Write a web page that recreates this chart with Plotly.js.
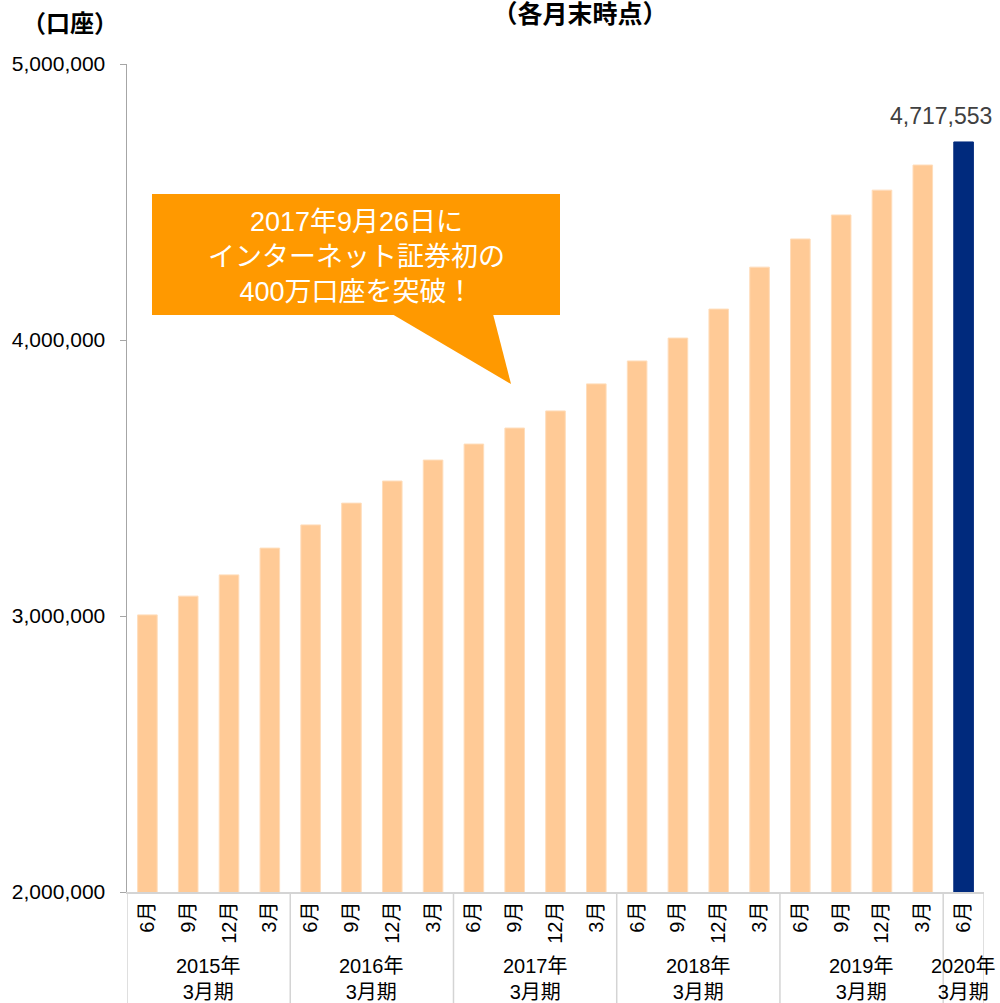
<!DOCTYPE html>
<html>
<head>
<meta charset="utf-8">
<script src="https://cdn.plot.ly/plotly-3.0.1.min.js"></script>
<style>
  html, body { margin: 0; padding: 0; background: #fff; }
  #chart { width: 1000px; height: 1003px; }
</style>
</head>
<body>
<div id="chart"></div>
<script>
// ---- data ----
const months = ['6月','9月','12月','3月','6月','9月','12月','3月','6月','9月','12月','3月',
                '6月','9月','12月','3月','6月','9月','12月','3月','6月'];
const fiscalYears = ['2015年','2016年','2017年','2018年','2019年','2020年'];
const fiscalSuffix = '3月期';
const monthsPerYear = [4, 4, 4, 4, 4, 1];
const accounts = [3004000, 3072000, 3149000, 3246000, 3330000, 3409000, 3489000, 3565000,
                  3623000, 3681000, 3743000, 3841000, 3924000, 4007000, 4112000, 4264000,
                  4366000, 4453000, 4543000, 4634000, 4717553];
const yTicks = [2000000, 3000000, 4000000, 5000000];
const unitLabel = '（口座）';
const titleText = '（各月末時点）';
const calloutText = '2017年9月26日に<br>インターネット証券初の<br>400万口座を突破！';

// ---- styling ----
const FONT = 'Liberation Sans, Arial, "Noto Sans CJK JP", sans-serif';
const PEACH = '#FFCA96';
const NAVY = '#002A7D';
const ORANGE = '#FF9900';
const SEP = '#d4d4d4';

const lastIdx = accounts.length - 1;
const xIdx = months.map((m, i) => i);
const colors = accounts.map((v, i) => i === lastIdx ? NAVY : PEACH);
const lineColors = accounts.map((v, i) => i === lastIdx ? NAVY : '#FFDDBB');

const trace = {
  type: 'bar',
  x: xIdx,
  y: accounts,
  width: 0.48,
  marker: { color: colors, line: { color: lineColors, width: 1 } },
  hoverinfo: 'skip'
};

// plot geometry helpers (paper coords)
const L = 127, R = 16, T = 64, B = 111, W = 1000, H = 1003;
const pw = W - L - R, ph = H - T - B;
const px = v => (v - L) / pw;
const py = v => (H - B - v) / ph;
const bottomPaper = py(H);

// year group separators and labels
const shapes = [];
const annotations = [];
let start = 0;
shapes.push({ type: 'line', xref: 'x', yref: 'paper', x0: -0.5, x1: -0.5, y0: 0, y1: bottomPaper,
              line: { color: SEP, width: 1.5 } });
fiscalYears.forEach((fy, k) => {
  const n = monthsPerYear[k];
  const end = start + n;
  shapes.push({ type: 'line', xref: 'x', yref: 'paper', x0: end - 0.5, x1: end - 0.5,
                y0: 0, y1: bottomPaper, line: { color: SEP, width: 1.5 } });
  annotations.push({
    xref: 'x', yref: 'paper', x: start + (n - 1) / 2, y: py(979),
    text: fy + '<br>' + fiscalSuffix, showarrow: false,
    xanchor: 'center', yanchor: 'middle',
    font: { family: FONT, size: 20, color: '#000' }
  });
  start = end;
});

// callout
shapes.push({ type: 'rect', xref: 'paper', yref: 'paper',
              x0: px(152), x1: px(560), y0: py(315), y1: py(194),
              fillcolor: ORANGE, line: { width: 0 }, layer: 'above' });
shapes.push({ type: 'path', xref: 'paper', yref: 'paper',
              path: `M ${px(392)} ${py(314)} L ${px(493)} ${py(314)} L ${px(511)} ${py(384)} Z`,
              fillcolor: ORANGE, line: { width: 0 }, layer: 'above' });
annotations.push({
  xref: 'paper', yref: 'paper', x: px(356), y: py(257),
  text: calloutText, showarrow: false, xanchor: 'center', yanchor: 'middle',
  font: { family: FONT, size: 27, color: '#fff' }
});

// value label on last bar
annotations.push({
  xref: 'x', yref: 'y', x: lastIdx, y: accounts[lastIdx],
  text: accounts[lastIdx].toLocaleString('en-US'), showarrow: false,
  xanchor: 'right', yanchor: 'middle', xshift: 30, yshift: 26,
  font: { family: FONT, size: 23, color: '#404040' }
});

// unit label
annotations.push({
  xref: 'paper', yref: 'paper', x: px(20), y: py(23),
  text: '<b>' + unitLabel + '</b>', showarrow: false, xanchor: 'left', yanchor: 'middle',
  font: { family: FONT, size: 24, color: '#000' }
});

const layout = {
  width: W, height: H,
  margin: { l: L, r: R, t: T, b: B, pad: 0 },
  paper_bgcolor: '#fff', plot_bgcolor: '#fff',
  showlegend: false,
  bargap: 0.52,
  title: {
    text: '<b>' + titleText + '</b>',
    x: 0.58, xanchor: 'center', xref: 'container',
    y: 0.986, yanchor: 'middle', yref: 'container',
    font: { family: FONT, size: 25, color: '#000' }
  },
  xaxis: {
    range: [-0.5, lastIdx + 0.5],
    tickmode: 'array', tickvals: xIdx, ticktext: months,
    tickangle: -90, ticks: '',
    showline: true, linecolor: SEP, linewidth: 1.5,
    showgrid: false, zeroline: false, fixedrange: true,
    tickfont: { family: FONT, size: 20, color: '#000' }
  },
  yaxis: {
    range: [yTicks[0], yTicks[yTicks.length - 1]],
    tickmode: 'array', tickvals: yTicks,
    ticktext: yTicks.map(v => v.toLocaleString('en-US')),
    ticks: 'outside', ticklen: 6, tickcolor: '#a6a6a6', tickwidth: 1,
    ticklabelstandoff: 10,
    showline: true, linecolor: '#a6a6a6', linewidth: 1.5,
    showgrid: false, zeroline: false, fixedrange: true,
    tickfont: { family: FONT, size: 21, color: '#000' }
  },
  shapes: shapes,
  annotations: annotations
};

Plotly.newPlot('chart', [trace], layout, { displayModeBar: false, staticPlot: true });
</script>
</body>
</html>
